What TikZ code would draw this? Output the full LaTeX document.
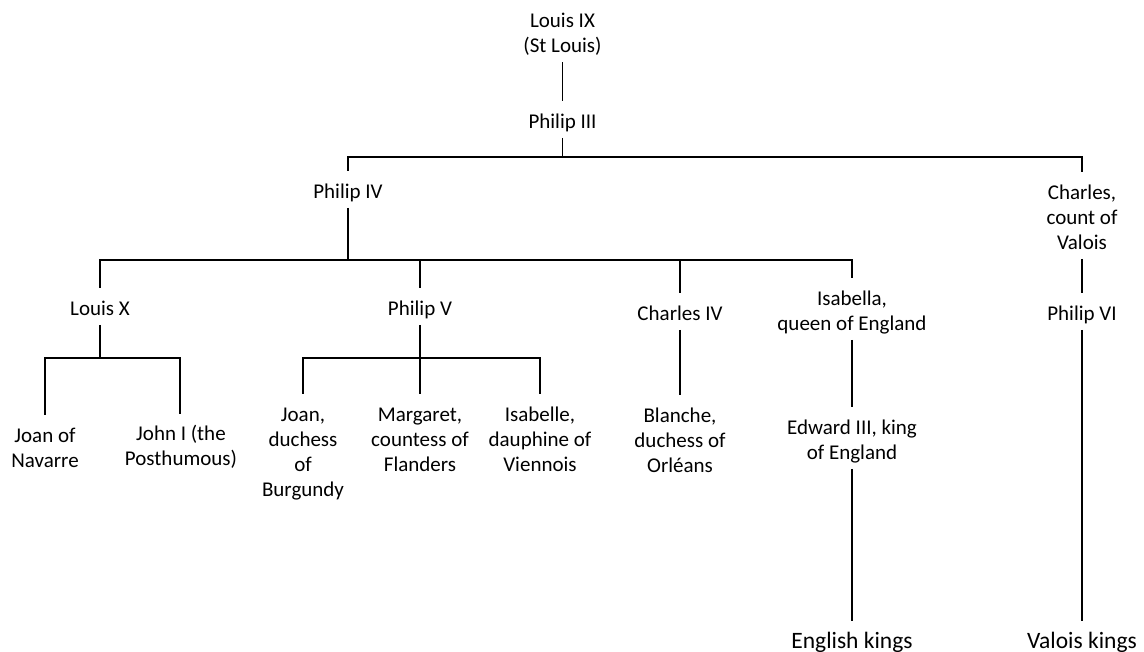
\documentclass[tikz,border=0pt]{standalone}
\usepackage{fontspec}
\setmainfont{Carlito}
\newcommand{\tstr}{\rule{0pt}{26.9pt}}
\newcommand{\bstr}{\rule[-9.6pt]{0pt}{9.6pt}}
\begin{document}
\begin{tikzpicture}[x=1pt,y=-1pt,
  person/.style={anchor=north,inner sep=0pt,align=center,font=\fontsize{21}{25}\selectfont},
  kings/.style={anchor=north,inner sep=0pt,align=center,font=\fontsize{23.5}{28}\selectfont},
  link/.style={line width=1.1pt,black}]
\useasboundingbox (0,0) rectangle (1144,652);
% nodes
\node[person] (l9) at (562.5,0.5) {\tstr Louis IX\\(St Louis)\bstr};
\node[person] (p3) at (562.5,101) {\tstr Philip III\bstr};
\node[person] (p4) at (348,171) {\tstr Philip IV\bstr};
\node[person] (cv) at (1082,172) {\tstr Charles,\\count of\\Valois\bstr};
\node[person] (lx) at (100,288) {\tstr Louis X\bstr};
\node[person] (p5) at (420,288) {\tstr Philip V\bstr};
\node[person] (c4) at (680,293) {\tstr Charles IV\bstr};
\node[person] (isa) at (852,278) {\tstr Isabella,\\queen of England\bstr};
\node[person] (p6) at (1082,293) {\tstr Philip VI\bstr};
\node[person] (jn) at (45,415) {\tstr Joan of\\Navarre\bstr};
\node[person] (jo) at (181,413) {\tstr John I (the\\Posthumous)\bstr};
\node[person] (jb) at (303,394) {\tstr Joan,\\duchess\\of\\Burgundy\bstr};
\node[person] (mf) at (420,394) {\tstr Margaret,\\countess of\\Flanders\bstr};
\node[person] (iv) at (540,394) {\tstr Isabelle,\\dauphine of\\Viennois\bstr};
\node[person] (bo) at (680,395) {\tstr Blanche,\\duchess of\\Orléans\bstr};
\node[person] (e3) at (852,407) {\tstr Edward III, king\\of England\bstr};
\node[kings] (ek) at (852,621) {\tstr English kings\bstr};
\node[kings] (vk) at (1082,621) {\tstr Valois kings\bstr};
% junctions
\coordinate (ja) at (562.5,157);
\coordinate (jbb) at (348,260);
\coordinate (jc) at (100,358);
\coordinate (jd) at (420,358);
% connectors
\draw[link] (l9.south) -- (p3.north);
\draw[link] (p3.south) -- (ja);
\draw[link] (p4.north) -- (p4.north |- ja) -- (cv.north |- ja) -- (cv.north);
\draw[link] (p4.south) -- (jbb);
\draw[link] (lx.north) -- (lx.north |- jbb) -- (isa.north |- jbb) -- (isa.north);
\draw[link] (p5.north) -- (p5.north |- jbb);
\draw[link] (c4.north) -- (c4.north |- jbb);
\draw[link] (cv.south) -- (p6.north);
\draw[link] (lx.south) -- (jc);
\draw[link] (jn.north) -- (jn.north |- jc) -- (180,358) -- (180,414);
\draw[link] (p5.south) -- (jd);
\draw[link] (jb.north) -- (jb.north |- jd) -- (iv.north |- jd) -- (iv.north);
\draw[link] (mf.north) -- (mf.north |- jd);
\draw[link] (c4.south) -- (bo.north);
\draw[link] (isa.south) -- (e3.north);
\draw[link] (e3.south) -- (ek.north);
\draw[link] (p6.south) -- (vk.north);
\end{tikzpicture}
\end{document}
